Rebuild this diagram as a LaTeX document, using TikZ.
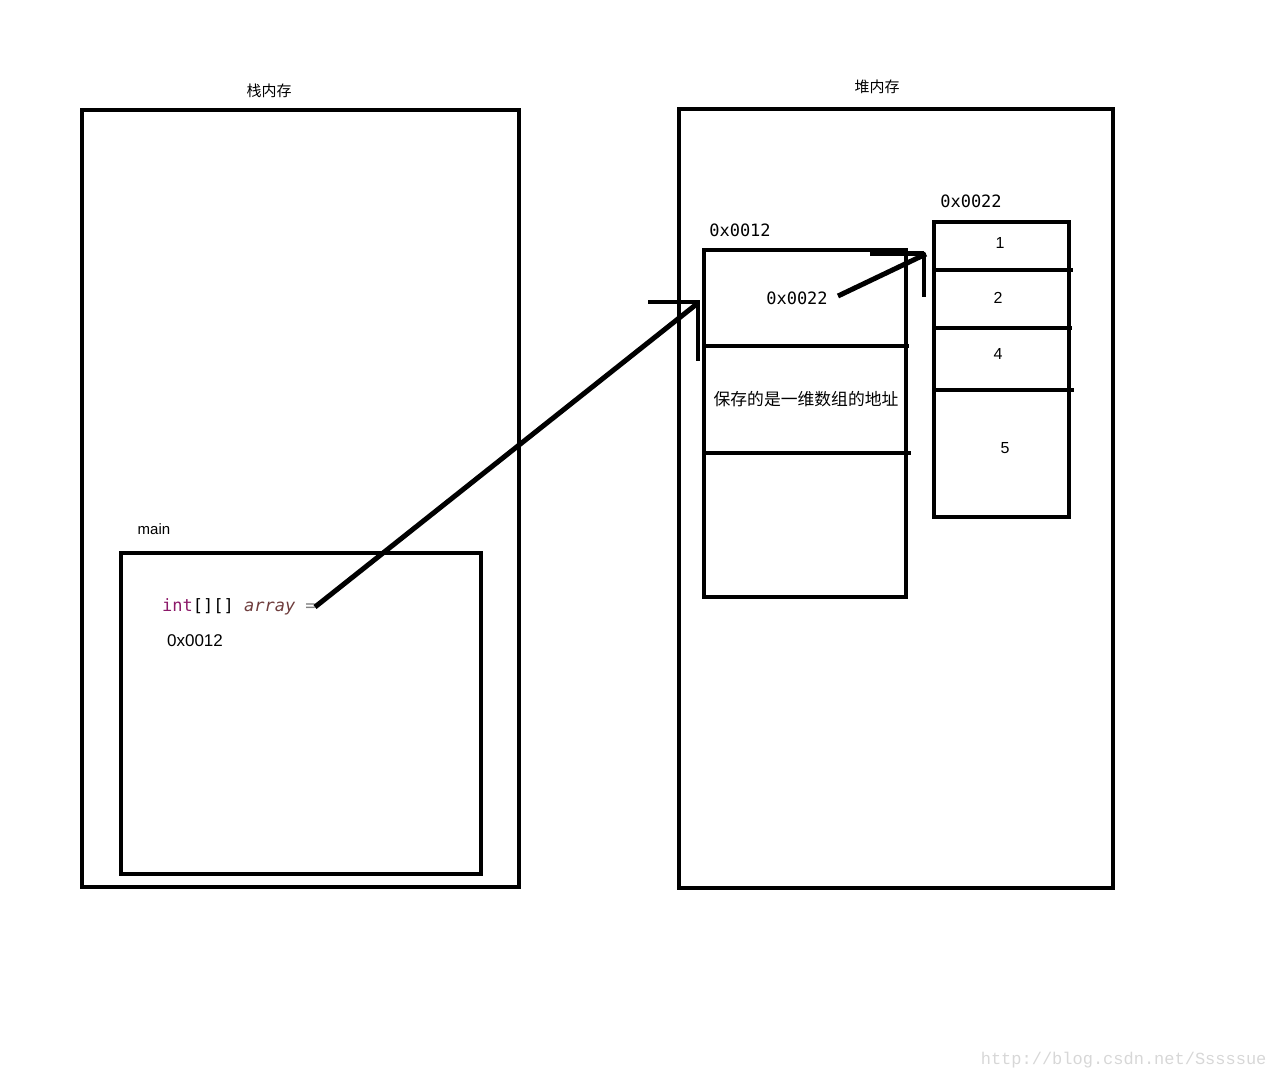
\documentclass[tikz,border=0pt]{standalone}
\usepackage{fontspec}
\usetikzlibrary{calc}
\setmainfont{Liberation Sans}
\setmonofont{DejaVu Sans Mono}
\newfontfamily\cjk{Noto Sans CJK SC}
\newfontfamily\wmfont{Liberation Mono}
\definecolor{keyword}{RGB}{140,25,105}
\definecolor{varname}{RGB}{110,60,60}
\definecolor{watermark}{RGB}{215,215,215}

\tikzstyle{frame} = [draw,line width=4pt,rectangle,anchor=north west,inner sep=0pt,outer sep=0pt]
\tikzstyle{caption} = [font=\cjk\fontsize{15}{15}\selectfont]
\tikzstyle{addr} = [font=\ttfamily\fontsize{17}{17}\selectfont]
\tikzstyle{value} = [font=\fontsize{16}{16}\selectfont]
\tikzstyle{divider} = [draw,line width=4pt,-]
\tikzstyle{pointer} = [draw,line width=5pt,-]

\begin{document}
\begin{tikzpicture}[x=1pt,y=-1pt]
    \useasboundingbox (0,0) rectangle (1280,1080);
    % frames
    \foreach \nodename/\x/\y/\w/\h in {
      stack/82/110/437/777,
      mainframe/121/553/360/321,
      heap/679/109/434/779,
      outer/704/250/202/347,
      inner/934/222/135/295}
    {
        \node[frame, minimum width=\w pt, minimum height=\h pt] (\nodename) at (\x,\y) {};
    };
    % labels
    \node[caption] (stacklabel) at (269,91) {栈内存};
    \node[caption] (heaplabel) at (877,87) {堆内存};
    \node[font=\fontsize{15}{15}\selectfont] (mainlabel) at (154,529) {main};
    \node[anchor=west, inner sep=0pt, font=\ttfamily\fontsize{17}{17}\selectfont] (code) at (162,607)
      {{\color{keyword}int}[][] {\color{varname}\itshape array} {\color{gray}=}};
    \node[font=\fontsize{17}{17}\selectfont] (stackaddr) at (195,641) {0x0012};
    \node[addr] (outeraddr) at (740,230) {0x0012};
    \node[addr] (cellref) at (797,298) {0x0022};
    \node[font=\cjk\fontsize{16.8}{16.8}\selectfont] (note) at (806,399) {保存的是一维数组的地址};
    \node[addr] (inneraddr) at (971,201) {0x0022};
    \foreach \nodename/\x/\y/\value in {
      one/1000/243/1, two/998/298/2, four/998/354/4, five/1005/448/5}
    {
        \node[value] (\nodename) at (\x,\y) {\value};
    };
    % cell lines
    \foreach \y/\xend in {346/909, 453/911}
      \path[divider] (outer.west |- 0,\y) -- (\xend,\y);
    \foreach \y/\xend in {270/1073, 328/1072, 390/1074}
      \path[divider] (inner.west |- 0,\y) -- (\xend,\y);
    % pointers
    \coordinate (tipa) at (698,303);
    \coordinate (tipb) at (926,254);
    \coordinate (starta) at (315,607);
    \coordinate (startb) at (838,296);
    \path[pointer] (starta) -- (tipa);
    \path[divider] ($(tipa)+(-50,-1)$) -- ($(tipa)+(0,-1)$) -- ($(tipa)+(0,58)$);
    \path[pointer] (startb) -- (tipb);
    \path[pointer] ($(tipb)+(-56,-1)$) -- ($(tipb)+(-2,-1)$);
    \path[divider] ($(tipb)+(-2,-1)$) -- ($(tipb)+(-2,43)$);
    % watermark
    \node[anchor=east, text=watermark, font=\wmfont\fontsize{17}{17}\selectfont] (mark) at (1270,1060) {http://blog.csdn.net/Sssssue};
\end{tikzpicture}
\end{document}
